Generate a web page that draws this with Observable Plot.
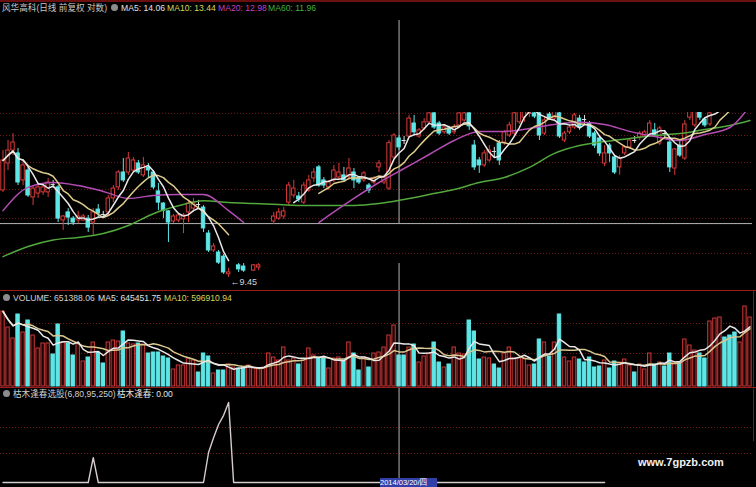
<!DOCTYPE html>
<html><head><meta charset="utf-8">
<script src="https://cdn.jsdelivr.net/npm/d3@7"></script>
<script src="https://cdn.jsdelivr.net/npm/@observablehq/plot@0.6"></script>
<style>
html,body{margin:0;padding:0;background:#000;}
#wrap{position:relative;width:756px;height:487px;background:#000;overflow:hidden;font-family:"Liberation Sans","Noto Sans CJK SC",sans-serif;font-size:8.6px;}
.panel{position:absolute;left:0;}
.t{position:absolute;white-space:nowrap;line-height:10px;}
.ico{position:absolute;width:7px;height:7px;border-radius:50%;background:#8c8c8c;}
.sep{position:absolute;left:0;width:756px;}
svg{display:block;}
</style></head>
<body><div id="wrap">
 <div id="pPrice" class="panel" style="top:0"></div>
 <div id="pVol" class="panel" style="top:291px"></div>
 <div id="pInd" class="panel" style="top:388px"></div>
 <div class="sep" style="top:0;height:2px;background:#6a1010"></div>
 <div class="sep" style="top:290px;height:1px;background:#9a1c1c"></div>
 <div class="sep" style="top:387px;height:1px;background:#9a1c1c"></div>
 <div style="position:absolute;left:753px;top:291px;width:1px;height:150px;background:#7a1616"></div>
 <div id="titles"></div>
 <div class="t" style="left:638px;top:456px;font-size:11px;line-height:13px;font-weight:bold;color:#f0f0f0">www.7gpzb.com</div>
 <div class="t" style="left:380px;top:478px;width:57px;height:9px;background:#3040a8;color:#fff;font-size:7.5px;line-height:9px;overflow:hidden">2014/03/20/四</div>
</div>
<script>
const N = 150;
const open = [
12.63,13.82,14.43,14.29,13.06,13.50,12.34,12.50,12.55,12.55,
12.88,12.76,11.43,11.74,11.50,11.43,11.43,11.50,11.35,11.85,
11.66,11.74,12.30,12.76,13.41,13.41,13.50,13.82,13.28,13.64,
13.41,12.59,12.09,11.78,11.39,11.43,11.47,11.74,11.89,12.05,
11.93,10.94,10.34,10.27,10.13,9.55,null,9.84,9.80,null,
9.67,9.77,null,null,11.39,11.50,11.58,12.13,12.42,12.38,
12.13,12.63,13.15,13.64,13.06,12.76,13.06,13.19,13.28,13.23,
13.41,13.15,13.06,12.84,12.97,13.64,12.97,12.71,14.10,15.02,
14.92,15.12,15.79,15.12,15.53,15.85,16.33,15.79,15.33,15.53,
15.33,15.69,15.95,16.33,14.67,13.96,13.73,13.96,14.38,14.77,
14.82,15.17,15.27,15.85,16.10,16.30,16.33,16.33,15.27,16.27,
16.05,16.33,14.92,15.33,15.58,16.05,16.00,15.79,15.27,15.02,
13.82,14.67,14.10,13.64,14.29,14.58,14.92,15.07,15.17,15.17,
15.43,14.77,15.27,14.82,13.59,14.67,14.05,16.10,15.69,16.40,
16.00,15.74,16.50,16.90,17.30,17.10,16.90,16.70,17.00,17.50];
const high = [
14.43,14.92,15.27,14.53,13.96,13.64,12.84,12.93,12.93,13.15,
13.06,12.84,11.62,11.89,11.58,11.78,11.66,11.62,11.89,12.05,
11.78,12.42,12.84,13.50,14.05,14.34,14.10,13.96,14.10,13.82,
13.50,12.93,12.13,11.81,11.66,11.70,11.70,12.22,12.30,12.22,
12.01,11.05,10.58,10.34,10.20,9.74,null,9.90,9.90,null,
9.87,9.90,null,null,11.74,11.89,11.93,12.97,13.06,12.55,
12.97,13.28,13.59,13.73,13.19,13.06,13.73,13.82,13.64,14.05,
13.59,13.23,13.46,12.93,13.23,13.96,13.28,14.92,15.27,15.17,
15.12,16.22,16.22,15.53,16.05,16.45,16.50,15.90,15.69,15.64,
15.74,16.50,16.55,16.55,14.92,14.10,14.43,14.67,14.58,14.92,
15.43,15.85,16.50,16.75,16.90,17.00,16.60,16.70,16.10,16.60,
16.80,16.70,15.38,15.74,16.33,16.22,16.22,15.90,15.38,15.12,
14.67,14.77,14.19,14.19,14.67,15.02,15.12,15.38,15.43,15.95,
15.79,15.64,15.43,14.92,14.53,14.92,15.95,16.70,16.70,16.60,
16.10,16.60,17.00,17.40,17.50,17.30,17.10,17.20,17.80,18.00];
const low = [
12.55,13.50,14.19,12.84,12.84,12.34,12.01,12.30,12.42,12.34,
12.71,11.35,11.05,11.24,11.24,11.31,11.39,10.98,10.87,11.50,
11.50,11.62,12.13,12.63,12.97,13.28,13.41,13.32,13.19,13.19,
12.67,11.81,11.50,10.62,11.31,11.35,10.94,11.35,11.74,11.89,
10.98,10.27,10.27,9.87,9.55,9.45,null,9.61,9.61,null,
9.64,9.67,null,null,11.28,11.43,11.47,12.01,12.30,12.13,
12.05,12.55,12.97,12.76,12.71,12.63,12.97,13.06,12.97,13.06,
12.71,12.88,12.97,12.50,12.88,13.41,12.88,12.63,14.01,14.43,
14.72,15.02,15.22,15.02,15.43,15.74,15.48,15.17,15.22,15.17,
15.22,15.58,15.85,15.43,13.50,13.37,13.64,13.87,14.10,13.73,
14.67,15.07,15.17,15.74,15.85,16.10,16.05,14.92,15.17,15.95,
15.95,15.02,14.82,15.22,15.48,15.43,15.74,15.02,14.53,14.15,
13.68,13.87,13.32,13.28,14.19,14.48,14.77,14.92,15.07,15.07,
15.07,14.67,15.07,13.41,13.28,14.10,13.96,15.95,15.58,15.95,
15.58,15.64,16.45,16.80,16.90,16.70,16.55,16.60,16.90,17.30];
const close = [
13.96,14.43,14.82,12.97,13.73,12.42,12.71,12.76,12.76,12.97,
12.88,11.50,11.58,11.54,11.35,11.58,11.58,11.16,11.74,11.70,
11.66,12.30,12.71,13.41,13.06,14.05,13.96,13.41,13.73,13.50,
12.76,12.13,11.81,11.35,11.58,11.62,11.62,12.09,12.13,12.05,
11.13,10.34,10.48,9.93,9.61,9.61,null,9.71,9.67,null,
9.84,9.84,null,null,11.58,11.74,11.78,12.84,12.71,12.26,
12.84,13.06,13.41,12.84,12.84,12.97,13.50,13.41,13.06,13.59,
13.06,12.97,13.37,12.63,13.15,13.82,13.19,14.79,15.17,14.58,
14.92,16.05,15.33,15.43,15.85,16.33,15.58,15.27,15.58,15.27,
15.58,16.33,16.33,15.64,13.64,13.73,14.29,14.43,14.38,13.96,
15.33,15.69,16.33,16.55,16.70,16.80,16.16,15.17,15.95,16.05,
16.50,15.12,15.27,15.58,16.22,15.58,16.00,15.12,14.67,14.29,
14.29,14.29,13.41,14.05,14.58,14.92,14.92,15.27,15.33,15.79,
15.12,15.53,15.27,13.64,14.48,14.19,15.74,16.50,16.45,16.10,
15.69,16.33,16.90,17.30,17.00,16.80,16.70,17.00,17.60,17.80];
const volume = [
1575000,1239000,1008000,1512000,1134000,1386000,1071000,798000,903000,903000,
672000,1302000,924000,903000,651000,903000,525000,609000,924000,714000,
483000,924000,966000,945000,1155000,903000,882000,903000,882000,693000,
714000,714000,630000,588000,357000,441000,441000,588000,546000,294000,
693000,630000,273000,336000,336000,462000,399000,378000,399000,441000,
378000,378000,399000,693000,609000,546000,819000,546000,588000,462000,
546000,798000,651000,588000,588000,378000,588000,609000,546000,924000,
693000,336000,609000,399000,693000,714000,819000,1071000,1281000,651388.06,
651000,819000,882000,504000,630000,693000,924000,504000,399000,462000,
819000,693000,672000,1386000,1155000,567000,609000,588000,462000,378000,
693000,819000,588000,588000,588000,441000,462000,987000,924000,630000,
924000,1512000,609000,525000,609000,567000,504000,609000,399000,420000,
546000,378000,525000,462000,567000,441000,294000,462000,357000,693000,
462000,504000,420000,693000,504000,504000,987000,861000,756000,693000,
588000,1365000,1428000,1449000,1029000,1071000,1134000,924000,1680000,1449000];
const ma20Index = [0,5,10,15,20,25,30,35,40,45,48,55,63,65,70,75,80,85,90,95,100,105,110,115,120,125,130,135,140,145,149];
const ma20 = [11.81,12.76,12.97,12.84,12.59,12.30,12.42,12.46,12.46,11.81,11.35,null,11.35,11.62,12.30,12.97,13.59,14.24,14.92,15.38,15.38,15.53,15.74,15.85,15.74,15.38,15.12,14.92,15.22,15.58,16.75];
const ma60Index = [0,5,10,15,20,25,30,35,40,45,50,55,60,65,70,75,80,85,90,95,100,105,110,115,120,125,130,135,140,145,149];
const ma60 = [10.13,10.48,10.71,10.80,10.94,11.24,11.69,12.00,12.20,12.13,12.09,12.05,12.01,12.01,12.01,12.09,12.26,12.46,12.67,12.97,13.19,13.64,14.29,14.67,14.87,15.02,15.17,15.27,15.48,15.69,15.95];
const signal = [
0,0,0,0,0,0,0,0,0,0,
0,0,0,0,0,0,0,0,31,0,
0,0,0,0,0,0,0,0,0,0,
0,0,0,0,0,0,0,0,0,0,
0,37.5,56,72.5,84,100,0,0,0,0,
0,0,0,0,0,0,0,0,0,0,
0,0,0,0,0,0,0,0,0,0,
0,0,0,0,0,0,0,0,0,0,
0,0,0,0,0,0,0,0,0,0,
0,0,0,0,0,0,0,0,0,0,
0,0,0,0,0,0,0,0,0,0,
0,0,0,0,0,0,0,0,0,0,
0];
const gridPrices = [16.33, 15.17, 13.86, 12.67, 11.50, 10.24];
const volGrid = [1323000, 693000];
const sigGrid = [68.75, 36.25];
const crossIndex = 79;
const crossPrice = 11.31;
const crossTop = 22.26;
const crossGapLow = 9.90;
const lowIndex = 45;
const maNames = ["MA5", "MA10", "MA20", "MA60"];
const maLast = [14.06, 13.44, 12.98, 11.96];
const volName = "VOLUME";
const volLast = 651388.06;
const volMaNames = ["MA5", "MA10"];
const volMaLast = [645451.75, 596910.94];
const stockTitle = "风华高科(日线 前复权 对数)";
const indTitle = "枯木逢春选股(6,80,95,250)";
const indLineName = "枯木逢春";
const indLast = 0.00;

const RED = "#d83a3a", CYAN = "#5ee6e6", WHITE = "#e0e0e0";
const GRID = "#6e1a1a", CROSS = "#b4b4b4";
const C_MA5 = "#e8e8e8", C_MA10 = "#dccb8c", C_MA20 = "#b44cb4", C_MA60 = "#52a83c";

function movingAverage(values, k) {
  return values.map((_, i) => {
    const w = values.slice(Math.max(0, i - k + 1), i + 1);
    return w.some(v => v == null) ? null : d3.mean(w);
  });
}
const bars = d3.range(N).map(i => ({i, o: open[i], h: high[i], l: low[i], c: close[i], v: volume[i]}));
const candles = bars.filter(d => d.o != null);
const isUp = d => d.c > d.o;
const isFlat = d => d.c === d.o;
const candleColor = d => isFlat(d) ? WHITE : isUp(d) ? RED : CYAN;
const volUp = d => d.o == null ? true : isUp(d);
const ma5 = movingAverage(close, 5), ma10 = movingAverage(close, 10);
const maRows = bars.map(d => ({i: d.i, ma5: ma5[d.i], ma10: ma10[d.i]}));
const vma5 = movingAverage(volume, 5), vma10 = movingAverage(volume, 10);
const vmaRows = bars.map(d => ({i: d.i, m5: vma5[d.i], m10: vma10[d.i]}));
const ma20Rows = ma20Index.map((i, k) => ({i, v: ma20[k]}));
const ma60Rows = ma60Index.map((i, k) => ({i, v: ma60[k]}));
const HW = 0.34;

const xOpt = {domain: [-0.5, N - 0.5], axis: null};
const common = {width: 756, marginLeft: 0, marginRight: 4, style: {background: "transparent", overflow: "visible"}, color: {type: "identity"}};

const pMin = 9.049, pMax = 16.379;
const price = Plot.plot({
  ...common, height: 291, marginTop: 112, marginBottom: 1,
  x: xOpt,
  y: {type: "log", domain: [pMin, pMax], axis: null},
  marks: [
    Plot.ruleY(gridPrices, {stroke: GRID, strokeDasharray: "1,2"}),
    Plot.ruleY([crossPrice], {stroke: CROSS}),
    Plot.ruleX([crossIndex], {y1: () => crossTop, y2: () => crossPrice, stroke: CROSS}),
    Plot.ruleX([crossIndex], {y1: () => crossGapLow, y2: () => pMin, stroke: CROSS}),
    Plot.ruleX(candles, {x: "i", y1: "l", y2: "h", stroke: candleColor, clip: true}),
    Plot.rect(candles.filter(d => !isFlat(d)), {x1: d => d.i - HW, x2: d => d.i + HW, y1: "o", y2: "c",
      fill: d => isUp(d) ? "#000" : CYAN, stroke: d => isUp(d) ? RED : CYAN, clip: true}),
    Plot.ruleY(candles.filter(isFlat), {x1: d => d.i - 0.42, x2: d => d.i + 0.42, y: "o", stroke: WHITE, clip: true}),
    Plot.line(ma60Rows, {x: "i", y: "v", stroke: C_MA60, curve: "monotone-x", clip: true}),
    Plot.line(ma20Rows, {x: "i", y: "v", stroke: C_MA20, curve: "monotone-x", clip: true}),
    Plot.line(maRows, {x: "i", y: "ma10", stroke: C_MA10, clip: true}),
    Plot.line(maRows, {x: "i", y: "ma5", stroke: C_MA5, clip: true}),
    Plot.text([lowIndex], {x: d => d, y: d => low[d], text: d => "←" + low[d].toFixed(2), textAnchor: "start",
      dx: 2, dy: 5, fill: "#d8d8d8", fontSize: 9, fontFamily: "Liberation Sans"})
  ]
});
document.getElementById("pPrice").appendChild(price);

const vol = Plot.plot({
  ...common, height: 96, marginTop: 0, marginBottom: 1,
  x: xOpt,
  y: {domain: [0, 1995000], axis: null},
  marks: [
    Plot.ruleY(volGrid, {stroke: GRID, strokeDasharray: "1,2"}),
    Plot.rect(bars, {x1: d => d.i - HW, x2: d => d.i + HW, y1: () => 0, y2: "v",
      fill: d => volUp(d) ? "#1e0606" : CYAN, stroke: d => volUp(d) ? "#c83636" : CYAN}),
    Plot.ruleX([crossIndex], {stroke: CROSS}),
    Plot.line(vmaRows, {x: "i", y: "m10", stroke: "#d8c890"}),
    Plot.line(vmaRows, {x: "i", y: "m5", stroke: "#e8e8e8"})
  ]
});
document.getElementById("pVol").appendChild(vol);

const ind = Plot.plot({
  ...common, height: 99, marginTop: 0, marginBottom: 0,
  x: xOpt,
  y: {domain: [0, 100], range: [94, 14], axis: null},
  marks: [
    Plot.ruleY(sigGrid, {stroke: GRID, strokeDasharray: "1,2"}),
    Plot.ruleX([crossIndex], {stroke: CROSS}),
    Plot.line(signal, {x: (d, i) => i, y: d => d, stroke: "#d6cccc", strokeWidth: 1.4})
  ]
});
document.getElementById("pInd").appendChild(ind);

// titles
const T = document.getElementById("titles");
function addText(txt, left, top, color) {
  const s = document.createElement("div");
  s.className = "t"; s.textContent = txt;
  s.style.left = left + "px"; s.style.top = top + "px"; s.style.color = color;
  T.appendChild(s);
}
function addIcon(left, top) {
  const s = document.createElement("div");
  s.className = "ico"; s.style.left = left + "px"; s.style.top = top + "px";
  T.appendChild(s);
}
addText(stockTitle, 2, 2.5, "#c8c8c8");
addIcon(111, 4);
const maTitleColors = ["#e2e2e2", "#d6d65a", "#c040c0", "#40b040"];
const maLeft = [121, 167, 218, 268];
maNames.forEach((n, k) => addText(n + ": " + maLast[k].toFixed(2), maLeft[k], 2.5, maTitleColors[k]));
addIcon(3, 294);
addText(volName + ": " + volLast.toFixed(2), 13, 292.5, "#d0d0d0");
const vmLeft = [98, 164], vmColors = ["#e2e2e2", "#d6d65a"];
volMaNames.forEach((n, k) => addText(n + ": " + volMaLast[k].toFixed(2), vmLeft[k], 292.5, vmColors[k]));
addIcon(3, 390);
addText(indTitle, 13, 388.5, "#d0d0d0");
addText(indLineName + ": " + indLast.toFixed(2), 117, 388.5, "#e6e6e6");
</script>
</body></html>
